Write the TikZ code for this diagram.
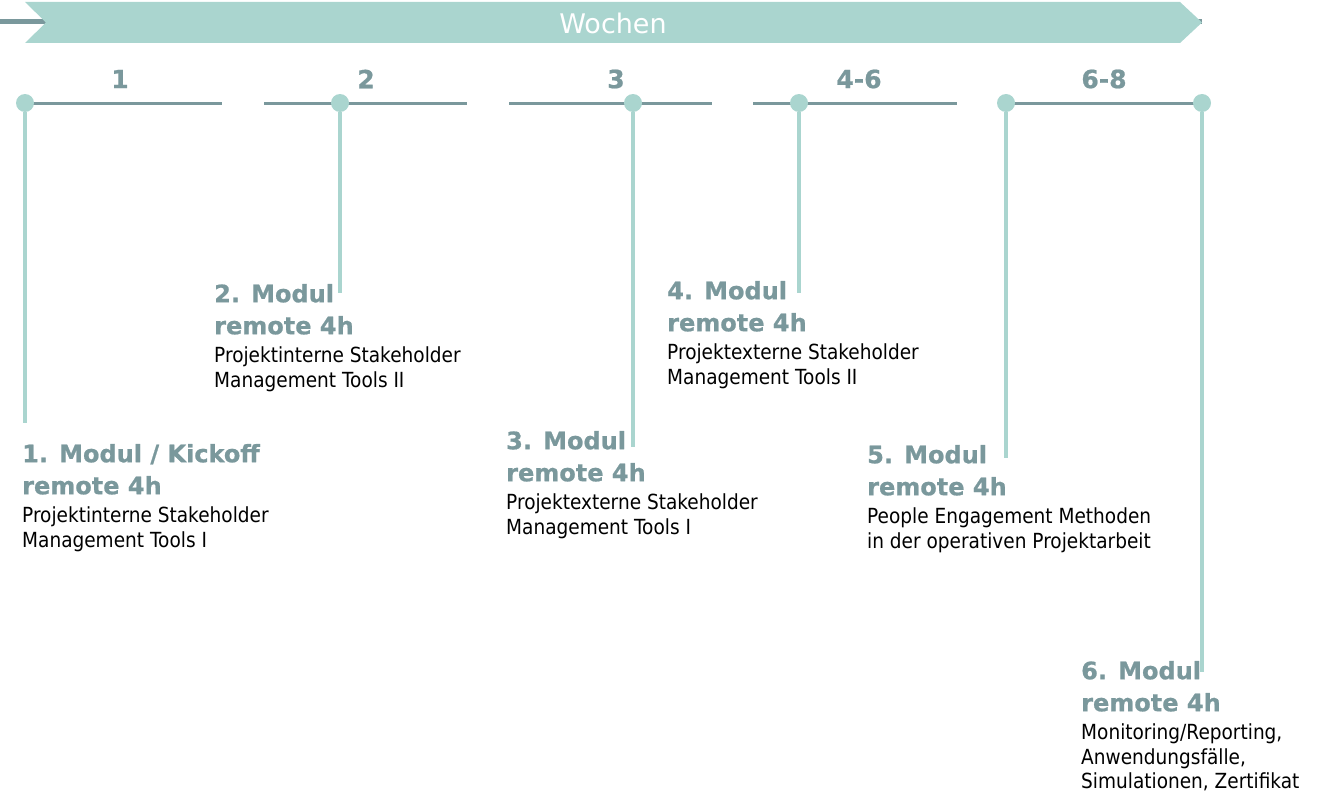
\documentclass[tikz,border=0pt]{standalone}
\usepackage{fontspec}
\setmainfont{DejaVu Sans}
\newfontfamily\koerper[FakeStretch=0.89]{DejaVu Sans}
\newfontfamily\fett[FakeBold=0.8]{DejaVu Sans Bold}
\usetikzlibrary{positioning}
\definecolor{tuerkis}{RGB}{170,213,207}
\definecolor{schiefer}{RGB}{122,152,156}
\newcommand{\titel}[1]{{\fett\fontsize{24}{24}\selectfont\color{schiefer}#1}}

\begin{document}
\begin{tikzpicture}[x=1pt,y=-1pt,
		punkt/.style={circle,fill=tuerkis,inner sep=0pt,minimum size=18pt},
		stiel/.style={draw=tuerkis,line width=4.5pt},
		leiste/.style={draw=schiefer,line width=3pt},
		woche/.style={font=\fett\fontsize{25}{25}\selectfont,text=schiefer},
		modul/.style={anchor=north west,inner sep=0pt,align=left,font=\koerper\fontsize{20.8}{24.5}\selectfont}]
	\useasboundingbox (0,0) rectangle (1319,792);
	\def\ty{103}
	\def\tgap{7.5pt}
	\def\rgap{4pt}
	% Pfeil oben
	\coordinate (gl) at (0,21.5);
	\coordinate (gr) at (1202,21.5);
	\draw[schiefer,line width=5pt] (gl) -- (gr);
	\fill[tuerkis] (25,2) -- (1180,2) -- (1202,22.5) -- (1180,43) -- (25,43) -- (46,22.5) -- cycle;
	\node[text=white,font=\fontsize{27}{27}\selectfont] (wochen) at (613,23.5) {Wochen};
	% Wochen-Abschnitte
	\foreach \a/\b/\m/\t [count=\i] in {25/222/120/1,264/467/366/2,509/712/616/3,753/957/859/4-6,1006/1202/1104/6-8}{
		\coordinate (s\i-a) at (\a,\ty);
		\coordinate (s\i-b) at (\b,\ty);
		\draw[leiste] (s\i-a) -- (s\i-b);
		\node[woche] (w\i) at (\m,79) {\t};
	}
	% Punkte und Stiele
	\foreach \x/\e [count=\i] in {25/423,340/293,633/447,799/293,1006/458,1202/672}{
		\coordinate (e\i) at (\x,\e);
		\node[punkt] (p\i) at (\x,\ty) {};
		\draw[stiel] (p\i) -- (e\i);
	}
	% Module
	\node[modul] (m1) at (22,443.8) {\titel{1. Modul / Kickoff}\\[\tgap]\titel{remote 4h}\\[\rgap]Projektinterne Stakeholder\\Management Tools I};
	\node[modul] (m2) at (214,283.8) {\titel{2. Modul}\\[\tgap]\titel{remote 4h}\\[\rgap]Projektinterne Stakeholder\\Management Tools II};
	\node[modul] (m3) at (506,430.8) {\titel{3. Modul}\\[\tgap]\titel{remote 4h}\\[\rgap]Projektexterne Stakeholder\\Management Tools I};
	\node[modul] (m4) at (667,280.8) {\titel{4. Modul}\\[\tgap]\titel{remote 4h}\\[\rgap]Projektexterne Stakeholder\\Management Tools II};
	\node[modul] (m5) at (867,444.8) {\titel{5. Modul}\\[\tgap]\titel{remote 4h}\\[\rgap]People Engagement Methoden\\in der operativen Projektarbeit};
	\node[modul] (m6) at (1081,660.8) {\titel{6. Modul}\\[\tgap]\titel{remote 4h}\\[\rgap]Monitoring/Reporting,\\Anwendungsfälle,\\Simulationen, Zertifikat};
\end{tikzpicture}
\end{document}
